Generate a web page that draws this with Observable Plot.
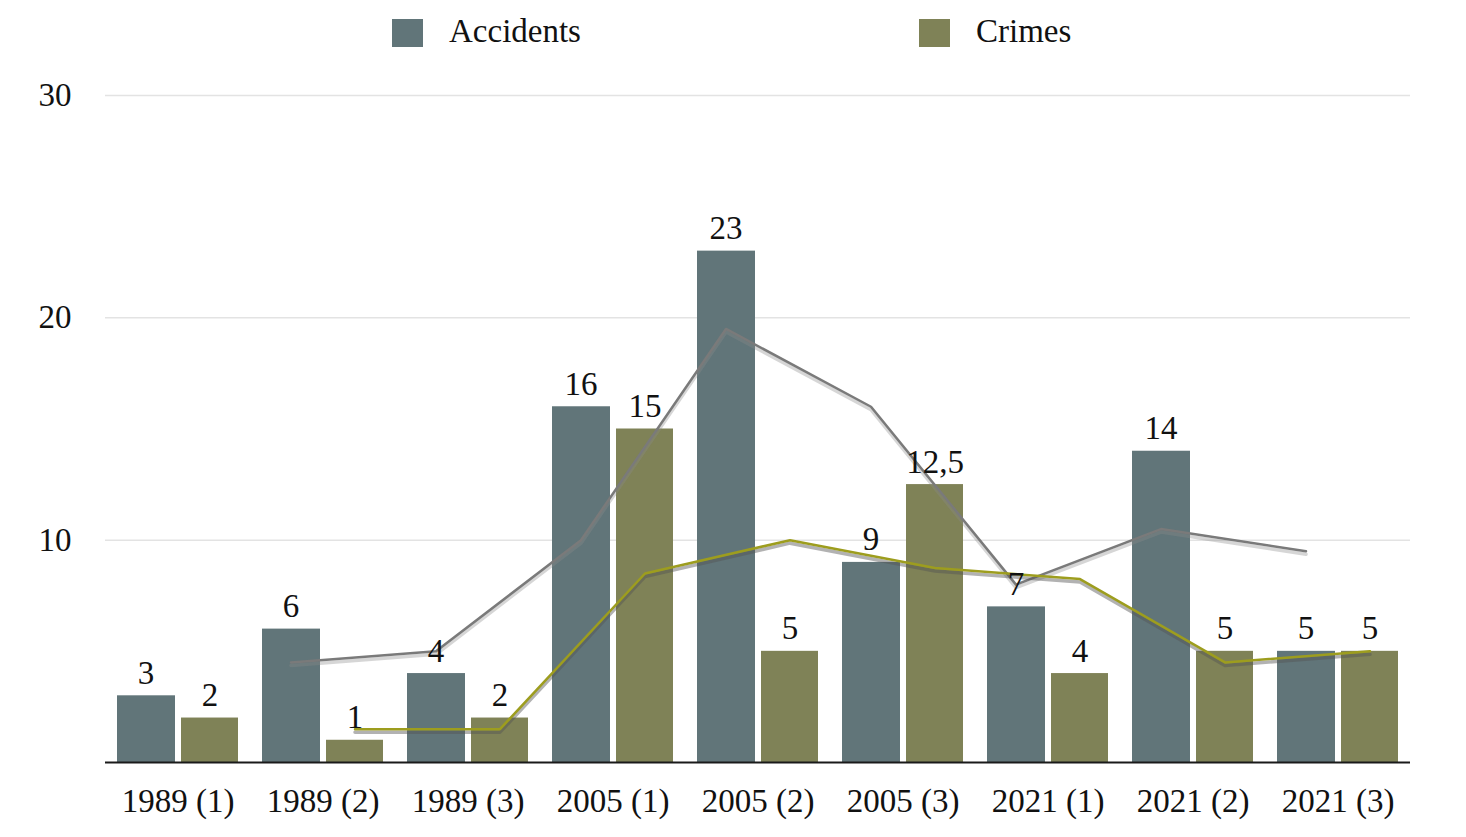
<!DOCTYPE html>
<html>
<head>
<meta charset="utf-8">
<script src="https://cdn.jsdelivr.net/npm/d3@7"></script>
<script src="https://cdn.jsdelivr.net/npm/@observablehq/plot@0.6"></script>
<style>
  html, body { margin: 0; padding: 0; background: #fff; }
  body { width: 1466px; height: 837px; overflow: hidden; font-family: "Liberation Serif", "DejaVu Serif", serif; }
  #legend { position: relative; height: 65px; width: 1466px; }
  .item { position: absolute; top: 0; height: 65px; display: flex; align-items: center; }
  .sw { width: 31px; height: 28px; margin-right: 26px; margin-top: 0px; }
  .lab { font-size: 33px; color: #111; margin-top: -2px; }
</style>
</head>
<body>
<div id="legend"></div>
<div id="chart"></div>
<script>
const categories = ["1989 (1)", "1989 (2)", "1989 (3)", "2005 (1)", "2005 (2)", "2005 (3)", "2021 (1)", "2021 (2)", "2021 (3)"];
const accidents = [3, 6, 4, 16, 23, 9, 7, 14, 5];
const crimes = [2, 1, 2, 15, 5, 12.5, 4, 5, 5];
const seriesNames = ["Accidents", "Crimes"];
const seriesColors = ["#617579", "#7f8257"];
const lineColors = ["#7a7a7a", "#9d9d1e"];
const yTicks = [10, 20, 30];

const accData = categories.map((c, i) => ({cat: c, series: "Accidents", value: accidents[i]}));
const crmData = categories.map((c, i) => ({cat: c, series: "Crimes", value: crimes[i]}));
const fmt = v => String(v).replace(".", ",");

// legend
const legend = document.getElementById("legend");
const legendX = [392, 919];
seriesNames.forEach((s, i) => {
  const d = document.createElement("div");
  d.className = "item";
  d.style.left = legendX[i] + "px";
  d.innerHTML = `<div class="sw" style="background:${seriesColors[i]}"></div><div class="lab">${s}</div>`;
  legend.appendChild(d);
});

const font = "Liberation Serif";
const chart = Plot.plot({
  width: 1466,
  height: 772,
  marginLeft: 105,
  marginRight: 56,
  marginTop: 30,
  marginBottom: 75,
  style: {fontFamily: font, fontSize: "33px", color: "#111", background: "#fff"},
  x: {domain: categories, padding: 0, label: null, tickSize: 0, tickPadding: 26},
  y: {domain: [0, 30], label: null, ticks: yTicks, tickSize: 0, tickPadding: 34},
  marks: [
    Plot.ruleY(yTicks, {stroke: "#e3e3e3", strokeWidth: 1.5}),
    Plot.barY(accData, {x: "cat", y: "value", fill: seriesColors[0], insetLeft: 12, insetRight: 75}),
    Plot.barY(crmData, {x: "cat", y: "value", fill: seriesColors[1], insetLeft: 76, insetRight: 12}),
    Plot.ruleY([0], {stroke: "#1a1a1a", strokeWidth: 2}),
    // trend lines (2-period moving average) with soft shadow
    Plot.lineY(accData, Plot.windowY({k: 2, anchor: "end", strict: true}, {x: "cat", y: "value", dx: -32, dy: 3, stroke: "#8a8a8a", strokeOpacity: 0.35, strokeWidth: 3.5})),
    Plot.lineY(accData, Plot.windowY({k: 2, anchor: "end", strict: true}, {x: "cat", y: "value", dx: -32, stroke: lineColors[0], strokeWidth: 2.5})),
    Plot.lineY(crmData, Plot.windowY({k: 2, anchor: "end", strict: true}, {x: "cat", y: "value", dx: 32, dy: 3, stroke: "#555", strokeOpacity: 0.45, strokeWidth: 3.5})),
    Plot.lineY(crmData, Plot.windowY({k: 2, anchor: "end", strict: true}, {x: "cat", y: "value", dx: 32, stroke: lineColors[1], strokeWidth: 2.5})),
    Plot.text(accData, {x: "cat", y: "value", text: d => fmt(d.value), dx: -32, dy: -12, lineAnchor: "bottom", fontSize: 33, fill: "#111"}),
    Plot.text(crmData, {x: "cat", y: "value", text: d => fmt(d.value), dx: 32, dy: -12, lineAnchor: "bottom", fontSize: 33, fill: "#111"})
  ]
});
document.getElementById("chart").appendChild(chart);
</script>
</body>
</html>
